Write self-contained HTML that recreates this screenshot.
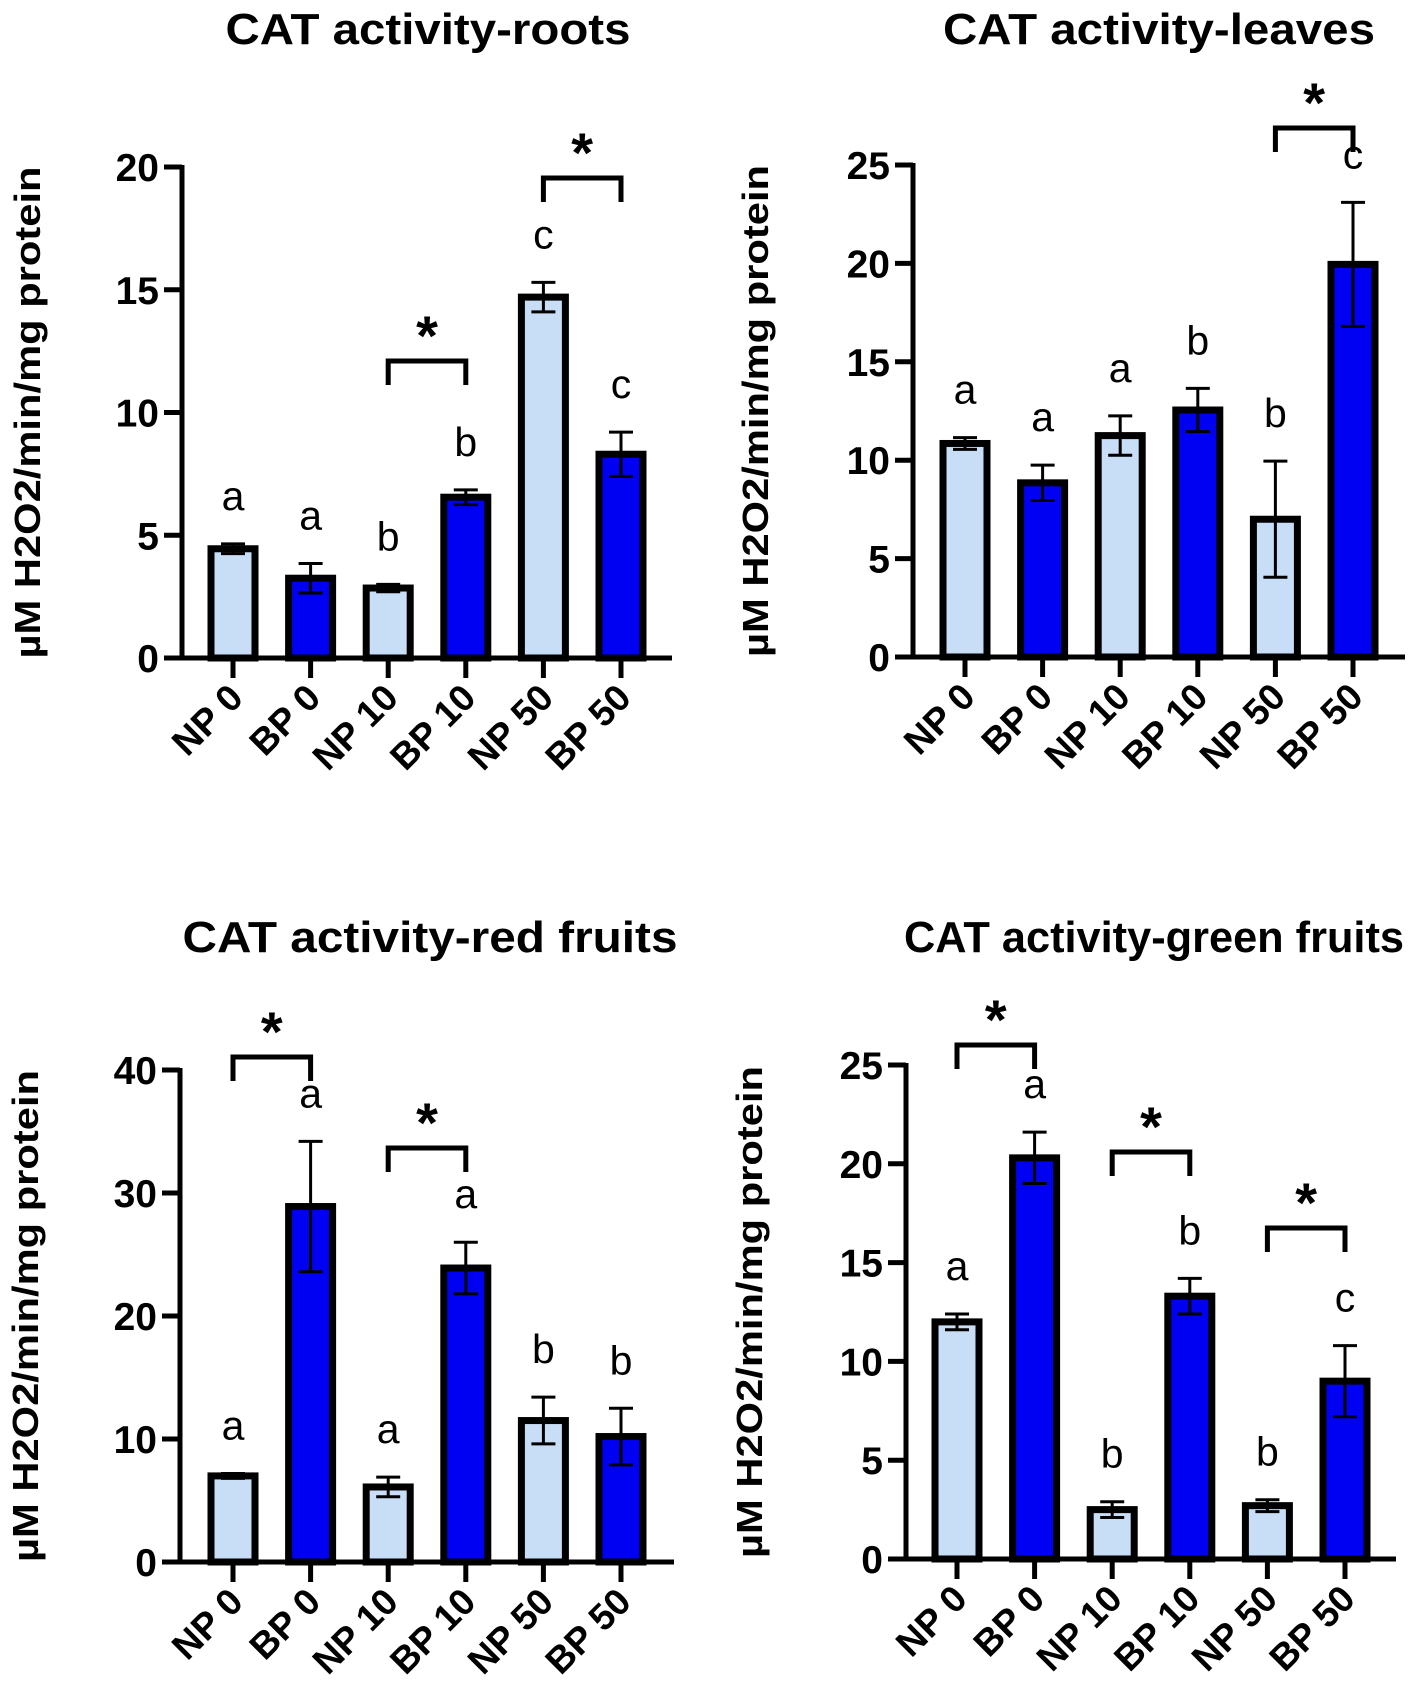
<!DOCTYPE html>
<html><head><meta charset="utf-8">
<style>
html,body{margin:0;padding:0;background:#fff;}
svg{display:block;font-family:"Liberation Sans",Arial,sans-serif;}
</style></head>
<body>
<svg id="fig" width="1418" height="1694" viewBox="0 0 1418 1694" xmlns="http://www.w3.org/2000/svg"></svg>
<script>
const categories = ["NP 0","BP 0","NP 10","BP 10","NP 50","BP 50"];

const rootsValues = [4.45, 3.25, 2.85, 6.55, 14.7, 8.3];
const rootsErrors = [0.2, 0.6, 0.15, 0.3, 0.6, 0.9];
const rootsLetters = ["a","a","b","b","c","c"];
const rootsTicks = [0,5,10,15,20];

const leavesValues = [10.85, 8.85, 11.25, 12.55, 7.0, 19.95];
const leavesErrors = [0.3, 0.9, 1.0, 1.1, 2.95, 3.15];
const leavesLetters = ["a","a","a","b","b","c"];
const leavesTicks = [0,5,10,15,20,25];

const redValues = [7.0, 28.9, 6.1, 23.9, 11.5, 10.2];
const redErrors = [0.2, 5.3, 0.8, 2.1, 1.9, 2.3];
const redLetters = ["a","a","a","a","b","b"];
const redTicks = [0,10,20,30,40];

const greenValues = [12.0, 20.3, 2.5, 13.3, 2.7, 9.0];
const greenErrors = [0.4, 1.3, 0.4, 0.9, 0.3, 1.8];
const greenLetters = ["a","a","b","b","b","c"];
const greenTicks = [0,5,10,15,20,25];

const NS = "http://www.w3.org/2000/svg";
const fig = document.getElementById("fig");
function mk(tag, attrs, parent){
  const e = document.createElementNS(NS, tag);
  for (const k in attrs) e.setAttribute(k, attrs[k]);
  (parent||fig).appendChild(e);
  return e;
}

function drawPanel(cfg){
  const g = mk("g", {});
  
  
  const ax = cfg.axisX, y0 = cfg.y0, yTop = cfg.yTop, vmax = cfg.ticks[cfg.ticks.length-1];
  const yScale = v => y0 - (v/vmax)*(y0-yTop);
  const xScale = i => ax + cfg.offset + i*cfg.step;
  const xEnd = xScale(categories.length-1) + cfg.offset;

  const t = mk("text", {x: cfg.titleX, y: cfg.titleY, "text-anchor":"middle", "font-size":44, "font-weight":"bold", fill:"#000", textLength:cfg.titleW, lengthAdjust:"spacingAndGlyphs"}, g);
  t.textContent = cfg.title;
  
  

  const yt = mk("text", {x:0, y:0, transform:`translate(${cfg.yTitleX},${(y0+yTop)/2}) rotate(-90)`, "text-anchor":"middle", "font-size":36, "font-weight":"bold", fill:"#000", textLength:492, lengthAdjust:"spacingAndGlyphs"}, g);
  yt.textContent = "µM H2O2/min/mg protein";
  
  

  categories.forEach((c,i)=>{
    const v = cfg.values[i], e = cfg.errors[i];
    const cx = xScale(i), w = 44;
    const top = yScale(v);
    const bar = mk("rect", {x: cx-w/2, y: top, width: w, height: y0-top, fill: i%2===0 ? "#c8ddf6" : "#0000f2", stroke:"#000", "stroke-width":7}, g);
    
    
    const et = yScale(v+e), eb = yScale(Math.max(0, v-e));
    const eg = mk("g", {stroke:"#000", "stroke-width":3}, g);
    
    
    mk("line", {x1:cx, y1:et, x2:cx, y2:eb}, eg);
    mk("line", {x1:cx-12, y1:et, x2:cx+12, y2:et}, eg);
    mk("line", {x1:cx-12, y1:eb, x2:cx+12, y2:eb}, eg);
    const lt = mk("text", {x:cx, y: et-34, "text-anchor":"middle", "font-size":41, fill:"#000"}, g);
    lt.textContent = cfg.letters[i];
    
    
  });

  const axG = mk("g", {stroke:"#000", "stroke-width":5, fill:"none"}, g);
  
  
  mk("line", {x1:ax, y1:yTop-2, x2:ax, y2:y0+2}, axG);
  mk("line", {x1:ax-18, y1:y0, x2:xEnd, y2:y0}, axG);
  cfg.ticks.forEach(tv=>{
    const ty = yScale(tv);
    mk("line", {x1:ax-18, y1:ty, x2:ax, y2:ty}, axG);
    const tl = mk("text", {x:ax-23, y:ty+14, "text-anchor":"end", "font-size":39, "font-weight":"bold", fill:"#000"}, g);
    tl.textContent = tv;
    
    
  });
  categories.forEach((c,i)=>{
    const cx = xScale(i);
    mk("line", {x1:cx, y1:y0, x2:cx, y2:y0+20}, axG);
    const xl = mk("text", {x:0, y:0, transform:`translate(${cx+12},${y0+42}) rotate(-45)`, "text-anchor":"end", "font-size":37, "font-weight":"bold", fill:"#000"}, g);
    xl.textContent = c;
    
    
  });

  cfg.brackets.forEach(b=>{
    const x1 = xScale(b[0]), x2 = xScale(b[1]), by = b[2];
    const bg = mk("path", {d:`M${x1},${by+24} L${x1},${by} L${x2},${by} L${x2},${by+24}`, stroke:"#000", "stroke-width":5, fill:"none"}, g);
    
    
    const st = mk("text", {x:(x1+x2)/2, y: by-6, "text-anchor":"middle", "font-size":56, "font-weight":"bold", fill:"#000"}, g);
    st.textContent = "*";
    
    
  });
}

drawPanel({name:"panel-roots", title:"CAT activity-roots", titleX:428, titleY:44, titleW:405, yTitleX:40,
  axisX:182, y0:658, yTop:167, offset:51, step:77.6, ticks:rootsTicks,
  values:rootsValues, errors:rootsErrors, letters:rootsLetters,
  brackets:[[2,3,361],[4,5,178]]});
drawPanel({name:"panel-leaves", title:"CAT activity-leaves", titleX:1159, titleY:44, titleW:432, yTitleX:768,
  axisX:913, y0:657, yTop:165, offset:52, step:77.6, ticks:leavesTicks,
  values:leavesValues, errors:leavesErrors, letters:leavesLetters,
  brackets:[[4,5,128]]});
drawPanel({name:"panel-red-fruits", title:"CAT activity-red fruits", titleX:430, titleY:952, titleW:495, yTitleX:38,
  axisX:180, y0:1562, yTop:1070, offset:53, step:77.6, ticks:redTicks,
  values:redValues, errors:redErrors, letters:redLetters,
  brackets:[[0,1,1057],[2,3,1148]]});
drawPanel({name:"panel-green-fruits", title:"CAT activity-green fruits", titleX:1154, titleY:952, titleW:500, yTitleX:762,
  axisX:906, y0:1559, yTop:1065, offset:51, step:77.6, ticks:greenTicks,
  values:greenValues, errors:greenErrors, letters:greenLetters,
  brackets:[[0,1,1045],[2,3,1152],[4,5,1228]]});
</script>
</body></html>
